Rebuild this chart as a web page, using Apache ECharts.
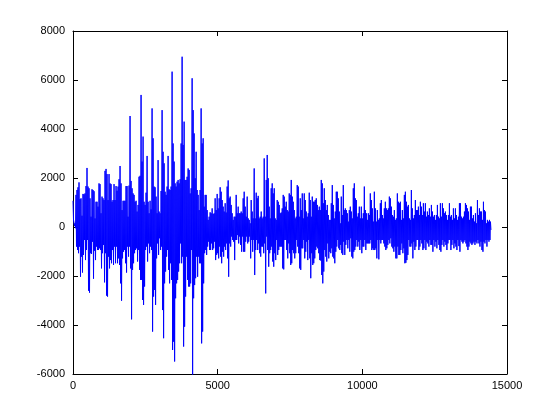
<!DOCTYPE html>
<html><head><meta charset="utf-8">
<script src="https://cdn.jsdelivr.net/npm/echarts@6/dist/echarts.min.js"></script>
<style>html,body{margin:0;padding:0;background:#fff}#c{width:560px;height:420px}</style>
</head><body><div id="c"></div>
<script>
// samples covered by one plotted column of the reference
const sampleStep = 34.6;

// per-column maximum of the signal
const peakHigh = [
1070,220,150,1310,1510,1620,1820,1140,1170,460,1350,1330,1370,1670,2410,1650,1580,1170,420,1540,1510,1460,350,1030,1030,830,1780,1750,560,1240,1170,1100,2290,2370,2160,1100,2160,1780,1750,1030,1100,1750,1100,1670,1480,1650,1950,2490,1780,690,1070,1070,1070,1670,1670,420,1690,4530,
1880,1580,1370,1310,1030,1070,630,900,2050,2090,5390,2670,3690,1030,900,1400,2900,1030,560,1070,720,4840,3620,1650,1620,1240,560,2730,630,560,1470,4770,3070,2600,1440,1310,1650,2900,1540,1510,1650,6340,3410,2670,1780,1650,1850,1920,1780,1950,3410,6950,3350,4300,1920,1920,2050,2390,2330,1370,
1580,6070,4770,3820,1990,3070,1510,1310,690,1510,4840,3410,3620,830,1310,1310,690,290,420,600,560,760,530,560,1170,690,1350,760,1170,1620,1440,1100,830,630,970,590,1650,1900,1170,1240,900,560,290,420,420,1310,560,830,560,560,630,560,1170,1440,830,420,1240,350,290,150,
1100,630,350,2390,350,1400,1170,1270,350,420,630,350,420,2800,420,1920,2940,1990,830,350,1580,1780,1370,1580,350,290,1100,1030,900,560,590,760,1310,1240,830,1030,690,630,1370,1310,1920,1240,1030,690,350,420,1710,1650,420,1170,690,1370,350,1370,1100,630,420,560,1400,1100,
420,1240,1030,1030,1100,1170,900,690,830,690,1920,1780,970,1580,1100,690,900,490,290,290,970,1710,900,350,630,1440,1440,1170,630,150,1240,490,1710,690,760,690,560,220,690,830,630,350,1580,1780,1170,1100,420,560,830,350,830,350,560,1650,690,560,290,560,490,1370,
1100,760,220,1440,760,220,690,290,350,970,1100,490,350,760,1030,760,690,760,1240,1170,830,490,420,690,290,350,1370,1030,970,1030,290,690,350,1310,1440,1030,830,900,350,290,1510,760,350,490,1100,690,690,830,490,1030,830,490,970,630,970,420,630,490,760,420,
900,630,420,490,290,490,900,420,350,970,420,970,760,560,630,490,290,490,970,420,490,290,760,350,760,490,290,420,970,970,420,350,420,630,970,900,760,630,290,830,830,350,490,220,560,150,1100,490,760,630,630,290,1030,690,630,150,290,220,290,220
];

// per-column minimum of the signal
const peakLow = [
290,40,-50,-800,-940,-1070,-800,-2030,-1210,-1860,-1140,-530,-1350,-940,-530,-2600,-2680,-1070,-1100,-600,-2110,-970,-1350,-800,-940,-940,-870,-940,-1690,-1070,-730,-2260,-1070,-2800,-2840,-1210,-1690,-1350,-1480,-940,-1550,-800,-1480,-800,-1480,-1280,-1550,-2300,-3010,-1280,-1010,-940,-1480,-1860,-800,-1210,-800,-1690,
-3770,-1750,-1480,-1070,-940,-870,-1410,-940,-1750,-2160,-2160,-2980,-3180,-2430,-940,-800,-1410,-670,-1070,-800,-940,-4270,-2840,-2570,-3180,-1280,-670,-1140,-460,-940,-800,-3390,-4540,-2300,-1820,-1210,-940,-1750,-2300,-1480,-2160,-5020,-4680,-5490,-2910,-2300,-2160,-1820,-1480,-670,-1480,-1210,-4880,-4070,-2840,-1210,-2160,-2430,-2430,-2300,
-940,-6300,-2910,-2370,-2090,-1210,-2030,-1210,-1480,-1480,-4750,-4270,-2300,-1070,-940,-1140,-800,-600,-940,-940,-670,-940,-870,-600,-1350,-1140,-1070,-1280,-800,-1210,-1480,-1010,-1210,-800,-940,-670,-1280,-2030,-670,-800,-390,-530,-600,-1350,-530,-530,-330,-670,-390,-730,-1010,-390,-1010,-1010,-600,-390,-670,-600,-390,-1280,
-530,-1010,-530,-1960,-940,-530,-940,-670,-1070,-1210,-800,-800,-1070,-670,-2710,-390,-940,-1620,-1070,-940,-800,-1410,-1620,-1070,-1350,-530,-1140,-940,-800,-800,-800,-1690,-1730,-530,-530,-940,-1280,-670,-1070,-1550,-1480,-940,-1070,-1280,-1070,-530,-800,-1070,-1690,-1750,-870,-870,-530,-1280,-1010,-600,-1350,-530,-1280,-2090,
-1070,-1550,-1480,-1280,-940,-800,-870,-1070,-1350,-1370,-1960,-2300,-1820,-940,-1210,-1410,-670,-1280,-1010,-1070,-870,-1210,-1280,-1480,-1010,-800,-530,-870,-940,-730,-1070,-1140,-600,-1140,-730,-530,-870,-530,-1010,-460,-1210,-1280,-1010,-940,-800,-530,-800,-600,-940,-530,-1070,-800,-800,-530,-940,-670,-670,-670,-670,-530,
-940,-870,-940,-940,-870,-1280,-530,-1320,-530,-670,-530,-530,-670,-800,-940,-870,-730,-530,-670,-460,-800,-870,-1010,-800,-1280,-1280,-800,-1140,-1140,-940,-670,-1070,-870,-1480,-1460,-1350,-1140,-530,-800,-800,-670,-1280,-600,-940,-800,-530,-530,-940,-800,-530,-670,-940,-870,-530,-940,-600,-670,-800,-530,-730,
-730,-1010,-530,-800,-600,-870,-530,-730,-940,-1010,-730,-530,-800,-600,-730,-940,-670,-530,-530,-940,-730,-530,-870,-670,-800,-940,-530,-780,-1010,-530,-600,-670,-600,-530,-670,-800,-940,-800,-600,-670,-730,-670,-600,-730,-600,-670,-530,-670,-800,-600,-940,-1010,-600,-670,-530,-800,-530,-600,-530,-120
];

const xTicks = [0, 5000, 10000, 15000];
const yTicks = [-6000, -4000, -2000, 0, 2000, 4000, 6000, 8000];

const signal = [];
for (let i = 0; i < peakHigh.length; i++) {
  signal.push([i * sampleStep, peakHigh[i]]);
  signal.push([i * sampleStep + sampleStep / 2, peakLow[i]]);
}

const FONT = 'Liberation Sans, Arial, Helvetica, sans-serif';
const lineStyle = { color: '#000', width: 1 };
const plain = v => String(v);

const chart = echarts.init(document.getElementById('c'), null, { renderer: 'canvas' });
chart.setOption({
  animation: false,
  backgroundColor: '#fff',
  grid: { left: 73, right: 53, top: 31, bottom: 46, containLabel: false },
  xAxis: [
    {
      type: 'value', position: 'bottom',
      min: xTicks[0], max: xTicks[xTicks.length - 1], interval: 5000,
      axisLine: { show: true, onZero: false, lineStyle },
      axisTick: { show: true, inside: true, length: 5, lineStyle },
      axisLabel: { show: true, margin: 6, color: '#000', fontSize: 11, fontFamily: FONT, formatter: plain },
      splitLine: { show: false }
    },
    {
      type: 'value', position: 'top',
      min: xTicks[0], max: xTicks[xTicks.length - 1], interval: 5000,
      axisLine: { show: true, onZero: false, lineStyle },
      axisTick: { show: true, inside: true, length: 5, lineStyle },
      axisLabel: { show: false },
      splitLine: { show: false }
    }
  ],
  yAxis: [
    {
      type: 'value', position: 'left',
      min: yTicks[0], max: yTicks[yTicks.length - 1], interval: 2000,
      axisLine: { show: true, onZero: false, lineStyle },
      axisTick: { show: true, inside: true, length: 5, lineStyle },
      axisLabel: { show: true, margin: 8, color: '#000', fontSize: 11, fontFamily: FONT, formatter: plain },
      splitLine: { show: false }
    },
    {
      type: 'value', position: 'right',
      min: yTicks[0], max: yTicks[yTicks.length - 1], interval: 2000,
      axisLine: { show: true, onZero: false, lineStyle },
      axisTick: { show: true, inside: true, length: 5, lineStyle },
      axisLabel: { show: false },
      splitLine: { show: false }
    }
  ],
  series: [{
    type: 'line',
    xAxisIndex: 0, yAxisIndex: 0,
    data: signal,
    symbol: 'none', showSymbol: false,
    sampling: null,
    clip: true,
    lineStyle: { color: '#0000ff', width: 1 },
    silent: true
  }]
});
</script>
</body></html>
